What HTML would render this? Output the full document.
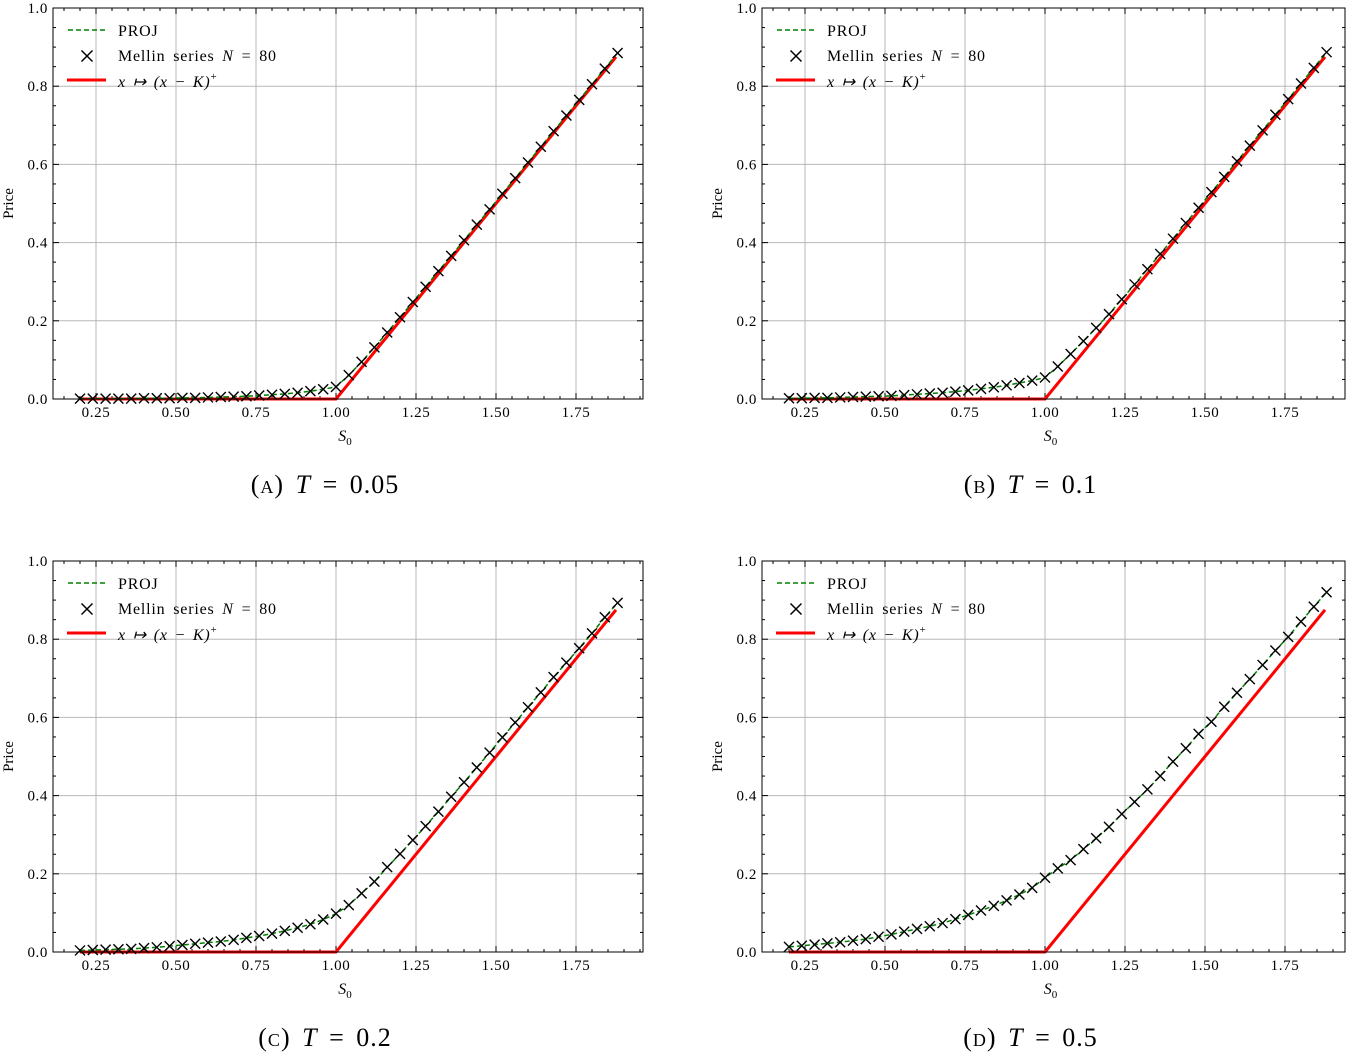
<!DOCTYPE html>
<html><head><meta charset="utf-8"><style>
html,body{margin:0;padding:0;background:#fff;}
svg{display:block;font-family:"Liberation Serif",serif;}
</style></head><body>
<svg id="fig" width="1356" height="1056" viewBox="0 0 1356 1056"></svg>
<script>
const S0 = [];
for (let i = 0; i <= 42; i++) S0.push(+(0.2 + 0.04 * i).toFixed(2));
const priceA = [0.001,0.001,0.001,0.001,0.001,0.002,0.002,0.002,0.003,0.003,0.004,0.005,0.006,0.007,0.009,0.011,0.013,0.016,0.020,0.025,0.031,
0.061,0.095,0.132,0.170,0.209,0.248,0.287,0.327,0.366,0.406,0.446,0.485,0.525,0.565,0.605,0.645,0.685,0.725,0.765,0.805,0.845,0.885];
const priceB = [0.002,0.002,0.003,0.003,0.004,0.005,0.006,0.007,0.008,0.010,0.012,0.014,0.016,0.019,0.022,0.026,0.030,0.035,0.041,0.047,0.055,
0.083,0.115,0.148,0.182,0.217,0.255,0.293,0.332,0.371,0.410,0.450,0.489,0.529,0.568,0.608,0.648,0.687,0.727,0.767,0.807,0.847,0.887];
const priceC = [0.004,0.005,0.006,0.007,0.008,0.010,0.012,0.015,0.018,0.021,0.024,0.027,0.031,0.036,0.041,0.047,0.054,0.062,0.071,0.083,0.098,
0.120,0.150,0.180,0.217,0.251,0.286,0.322,0.359,0.397,0.434,0.472,0.510,0.549,0.587,0.626,0.664,0.703,0.740,0.777,0.815,0.856,0.893];
const priceD = [0.013,0.016,0.019,0.022,0.025,0.029,0.033,0.039,0.045,0.052,0.059,0.066,0.074,0.084,0.095,0.106,0.118,0.132,0.147,0.164,0.190,
0.214,0.235,0.263,0.291,0.320,0.353,0.384,0.416,0.450,0.487,0.521,0.558,0.589,0.627,0.663,0.698,0.734,0.771,0.806,0.845,0.883,0.920];
const strikeK = 1.0;
const payoffS = [0.2, 1.0, 1.875];
const xTicks = [0.25, 0.50, 0.75, 1.00, 1.25, 1.50, 1.75];
const xTickLabels = ["0.25","0.50","0.75","1.00","1.25","1.50","1.75"];
const yTicks = [0, 0.2, 0.4, 0.6, 0.8, 1.0];
const yTickLabels = ["0.0","0.2","0.4","0.6","0.8","1.0"];
const panelTitles = ["a","b","c","d"];
const panelT = ["0.05","0.1","0.2","0.5"];

const NS = "http://www.w3.org/2000/svg";
const svg = document.getElementById('fig');
function mk(tag, attrs, parent){
  const e = document.createElementNS(NS, tag);
  for (const k in attrs) e.setAttribute(k, attrs[k]);
  (parent||svg).appendChild(e); return e;
}
const panels = [
  {L:53, R:643, T:8, B:399, data:priceA},
  {L:762, R:1345, T:8, B:399, data:priceB},
  {L:53, R:643, T:561, B:952, data:priceC},
  {L:762, R:1345, T:561, B:952, data:priceD}
];
panels.forEach((p, pi) => {
  const g = mk('g', {});
  
  
  const x0 = 0.25 - 43/320;
  const xs = v => p.L + (v - x0) * 320;
  const ys = v => p.B - v * (p.B - p.T);
  const xMax = x0 + (p.R - p.L)/320;
  xTicks.forEach(t => { const l = mk('line',{x1:xs(t),x2:xs(t),y1:p.T,y2:p.B,stroke:'#b8b8b8','stroke-width':1},g);   });
  yTicks.forEach(t => { const l = mk('line',{x1:p.L,x2:p.R,y1:ys(t),y2:ys(t),stroke:'#b8b8b8','stroke-width':1},g);   });
  for (let v = 0.15; v < xMax; v += 0.05) {
    const vv = +v.toFixed(2); const major = Math.abs((vv*4) - Math.round(vv*4)) < 1e-6;
    const len = major ? 6 : 3;
    mk('line',{x1:xs(vv),x2:xs(vv),y1:p.B,y2:p.B-len,stroke:'#000','stroke-width':1},g);
    mk('line',{x1:xs(vv),x2:xs(vv),y1:p.T,y2:p.T+len,stroke:'#000','stroke-width':1},g);
  }
  for (let v = 0.05; v < 1.0; v += 0.05) {
    const vv = +v.toFixed(2); const major = Math.abs(vv*5 - Math.round(vv*5)) < 1e-6;
    const len = major ? 6 : 3;
    mk('line',{x1:p.L,x2:p.L+len,y1:ys(vv),y2:ys(vv),stroke:'#000','stroke-width':1},g);
    mk('line',{x1:p.R,x2:p.R-len,y1:ys(vv),y2:ys(vv),stroke:'#000','stroke-width':1},g);
  }
  const pay = payoffS.map(s => xs(s)+','+ys(Math.max(s-strikeK,0))).join(' ');
  const pl = mk('polyline',{points:pay,fill:'none',stroke:'#ff0000','stroke-width':3},g);
   
  const pts = S0.map((s,i)=>xs(s)+','+ys(p.data[i])).join(' ');
  const pj = mk('polyline',{points:pts,fill:'none',stroke:'#008000','stroke-width':1.5,'stroke-dasharray':'5,3'},g);
   
  S0.forEach((s,i)=>{
    const cx = xs(s), cy = ys(p.data[i]), r = 5;
    const m = mk('path',{d:`M${cx-r},${cy-r}L${cx+r},${cy+r}M${cx-r},${cy+r}L${cx+r},${cy-r}`,stroke:'#000','stroke-width':1.4,fill:'none'},g);
     
  });
  const fr = mk('rect',{x:p.L,y:p.T,width:p.R-p.L,height:p.B-p.T,fill:'none',stroke:'#000','stroke-width':1},g);
   
  xTicks.forEach((t,i)=>{ const tx = mk('text',{x:xs(t),y:p.B+18,'font-size':15,'text-anchor':'middle','letter-spacing':0.6},g); tx.textContent = xTickLabels[i];   });
  yTicks.forEach((t,i)=>{ const tx = mk('text',{x:p.L-5,y:ys(t)+5,'font-size':15,'text-anchor':'end','letter-spacing':0.6},g); tx.textContent = yTickLabels[i];   });
  const xl = mk('text',{x:(p.L+p.R)/2 - 3,y:p.B+42,'font-size':16,'font-style':'italic','text-anchor':'middle'},g);
  xl.innerHTML = 'S<tspan font-size="11" dy="4" font-style="normal">0</tspan>';
   
  const yl = mk('text',{x:0,y:0,'font-size':15,'text-anchor':'middle',transform:`translate(${p.L-40},${(p.T+p.B)/2}) rotate(-90)`},g);
  yl.textContent = 'Price';
   
  const lg = mk('g',{},g);
   
  const lx = p.L, ly = p.T;
  mk('line',{x1:lx+15,x2:lx+52,y1:ly+22,y2:ly+22,stroke:'#008000','stroke-width':1.5,'stroke-dasharray':'5,3'},lg);
  const t1 = mk('text',{x:lx+65,y:ly+28,'font-size':16,'letter-spacing':0.8},lg); t1.textContent='PROJ';
   
  const mx = lx+34, my = ly+48, r=5.5;
  mk('path',{d:`M${mx-r},${my-r}L${mx+r},${my+r}M${mx-r},${my+r}L${mx+r},${my-r}`,stroke:'#000','stroke-width':1.5},lg);
  const t2 = mk('text',{x:lx+65,y:ly+53,'font-size':16,'letter-spacing':0.8,'word-spacing':3},lg); t2.innerHTML='Mellin series <tspan font-style="italic">N</tspan> = 80';
   
  mk('line',{x1:lx+14,x2:lx+53,y1:ly+72,y2:ly+72,stroke:'#ff0000','stroke-width':3},lg);
  const t3 = mk('text',{x:lx+65,y:ly+79,'font-size':16,'font-style':'italic','letter-spacing':0.8,'word-spacing':2},lg); t3.innerHTML='x ↦ (x − K)<tspan font-size="11" dy="-7" font-style="normal">+</tspan>';
   
  const cap = mk('text',{x:(p.L+p.R)/2 - 23,y:p.B+94,'font-size':26,'text-anchor':'middle','letter-spacing':1,'word-spacing':4},g);
  cap.innerHTML = '(<tspan style="font-variant:small-caps">' + panelTitles[pi] + '</tspan>) <tspan font-style="italic">T</tspan> = ' + panelT[pi];
   
});
</script>
</body></html>
